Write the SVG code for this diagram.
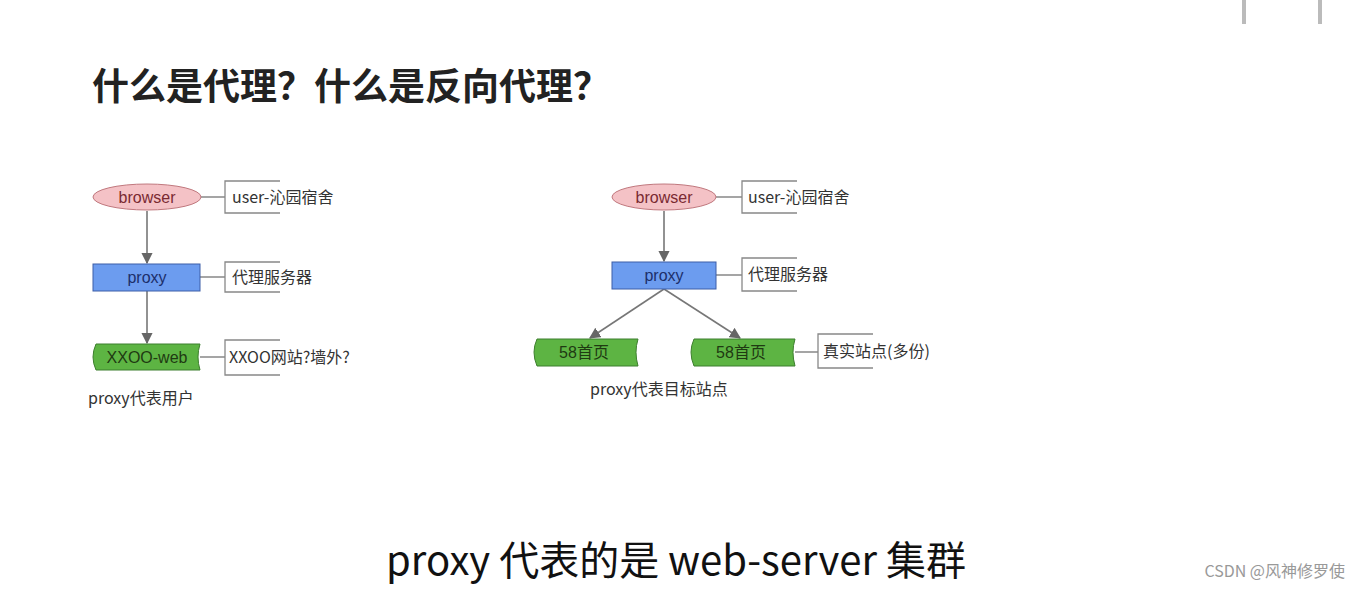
<svg xmlns="http://www.w3.org/2000/svg" width="1360" height="590" viewBox="0 0 1360 590">
<style>
.t{font-family:"Noto Sans CJK SC","Noto Sans",sans-serif;fill:#333;font-size:16px}
.n{font-family:"Liberation Sans","Noto Sans CJK SC",sans-serif;font-size:16px;text-anchor:middle}
.br{fill:none;stroke:#888;stroke-width:1.3}
.ar{stroke:#777;stroke-width:1.6;fill:none;marker-end:url(#ah)}
.fl{fill:#5db443;stroke:#3d7f2e;stroke-width:1}
</style>
<defs><marker id="ah" viewBox="0 0 10 10" refX="9" refY="5" markerWidth="7" markerHeight="7" orient="auto"><path d="M0,0L10,5L0,10z" fill="#666"/></marker></defs>
<rect width="1360" height="590" fill="#fff"/>
<path d="M1244 0V24M1320 0V24" stroke="#bbb" stroke-width="4"/>
<text x="92" y="100" font-family="Noto Sans CJK SC,sans-serif" font-weight="bold" font-size="37" fill="#222">什么是代理？什么是反向代理？</text>
<g id="connectors">
<path class="ar" d="M147 211V263"/><path class="ar" d="M147 291V343"/>
<path class="ar" d="M664 211V261"/><path class="ar" d="M664 289L590 338"/><path class="ar" d="M664 289L740 338"/>
<path class="br" d="M201 197H225M280 181H225V213H280M200 277H225M280 262H225V292H280M200 357H225M280 340H225V375H280"/>
<path class="br" d="M716 197H742M797 181H742V213H797M716 275H742M797 258H742V291H797M795 352H818M873 334H818V368H873"/>
</g>
<g id="browser1"><ellipse cx="147" cy="197" rx="54" ry="13" fill="#f4c2c6" stroke="#c0787e"/><text class="n" x="147" y="203" fill="#7a2a32">browser</text></g>
<g id="proxy1"><rect x="93" y="264" width="107" height="27" fill="#6c9cef" stroke="#3c5ea8"/><text class="n" x="147" y="283" fill="#1c2f6a">proxy</text></g>
<g id="web1"><path class="fl" d="M96 344H200Q196 357 200 370H96Q90 357 96 344Z"/><text class="n" x="147" y="363" fill="#1f3a12" font-size="17">XXOO-web</text></g>
<g id="browser2"><ellipse cx="664" cy="197" rx="52" ry="13" fill="#f4c2c6" stroke="#c0787e"/><text class="n" x="664" y="203" fill="#7a2a32">browser</text></g>
<g id="proxy2"><rect x="612" y="262" width="104" height="27" fill="#6c9cef" stroke="#3c5ea8"/><text class="n" x="664" y="281" fill="#1c2f6a">proxy</text></g>
<g id="site1"><path class="fl" d="M537 339H638Q634 352 638 366H537Q531 352 537 339Z"/><text class="n" x="584" y="358" fill="#1f3a12">58首页</text></g>
<g id="site2"><path class="fl" d="M694 339H795Q791 352 795 366H694Q688 352 694 339Z"/><text class="n" x="741" y="358" fill="#1f3a12">58首页</text></g>
<text class="t" x="232" y="203">user-沁园宿舍</text>
<text class="t" x="232" y="283">代理服务器</text>
<text class="t" x="229" y="363">XXOO网站?墙外?</text>
<text class="t" x="88" y="404">proxy代表用户</text>
<text class="t" x="748" y="203">user-沁园宿舍</text>
<text class="t" x="748" y="280">代理服务器</text>
<text class="t" x="823" y="357">真实站点(多份)</text>
<text class="t" x="590" y="395">proxy代表目标站点</text>
<text x="676" y="575" text-anchor="middle" font-family="Noto Sans CJK SC,sans-serif" font-size="40" fill="#111" stroke="#fff" stroke-width="3" paint-order="stroke">proxy 代表的是 web-server 集群</text>
<text x="1345" y="577" text-anchor="end" font-family="Noto Sans CJK SC,sans-serif" font-size="16" fill="#999">CSDN @风神修罗使</text>
</svg>
